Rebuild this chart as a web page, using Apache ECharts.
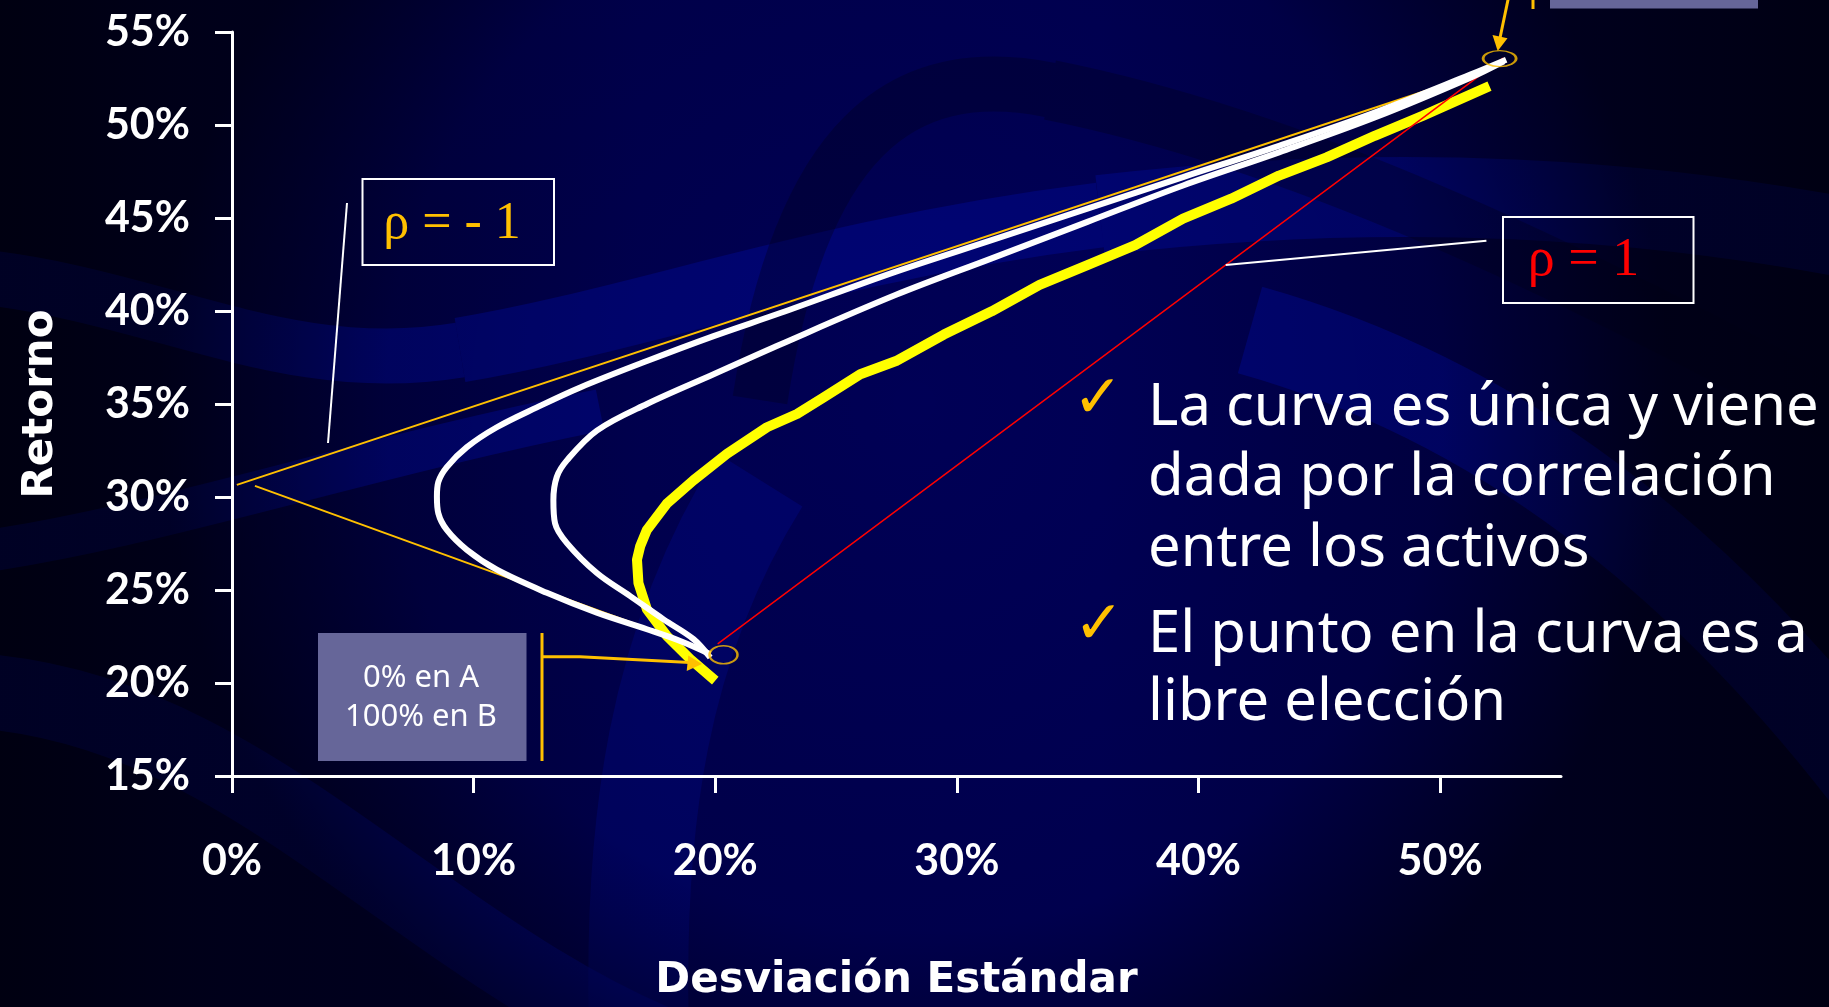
<!DOCTYPE html>
<html>
<head>
<meta charset="utf-8">
<script src="https://cdn.jsdelivr.net/npm/echarts@6.0.0/dist/echarts.min.js"></script>
<style>
html,body{margin:0;padding:0;overflow:hidden;background:#000030;}
#chart{width:1829px;height:1007px;}
</style>
</head>
<body>
<div id="chart"></div>
<script>
// ---- data (σ %, return %) ----
const xTickValues = [0, 10, 20, 30, 40, 50];
const yTickValues = [15, 20, 25, 30, 35, 40, 45, 50, 55];

const curveOuterWhite = [
  [19.79,21.55],[18.55,22.26],[17.17,22.89],[15.10,23.78],[13.03,24.85],[10.96,26.09],
  [9.72,27.16],[8.89,28.23],[8.54,29.12],[8.48,30.01],[8.54,30.81],[8.89,31.61],
  [9.72,32.68],[10.96,33.75],[12.62,34.82],[14.41,35.89],[17.17,37.31],[19.93,38.65],
  [22.69,39.89],[27.48,42.12],[31.44,43.81],[35.40,45.50],[39.36,47.20],[43.33,48.88],
  [47.29,50.67],[51.25,52.71],[52.73,53.51]
];
const curveInnerWhite = [
  [19.79,21.37],[19.10,22.36],[17.86,23.42],[16.48,24.67],[15.10,25.91],[13.86,27.52],
  [13.37,28.58],[13.30,29.83],[13.44,31.08],[13.86,31.97],[15.10,33.57],[17.17,35.00],
  [19.93,36.60],[22.69,38.20],[27.48,40.87],[31.44,42.83],[35.40,44.79],[39.36,46.75],
  [43.33,48.53],[47.29,50.40],[51.25,52.54],[52.63,53.42]
];
const curveYellow = [
  [20.00,20.13],[18.96,21.29],[18.00,22.53],[17.17,23.96],[16.82,25.38],[16.76,26.63],
  [16.89,27.34],[17.17,28.23],[18.00,29.65],[19.10,30.90],[20.48,32.32],[22.14,33.75],
  [23.38,34.46],[24.48,35.35],[26.00,36.60],[27.48,37.31],[29.46,38.73],[31.44,39.98],
  [33.42,41.41],[35.40,42.47],[37.38,43.54],[39.36,44.97],[41.35,46.04],[43.33,47.28],
  [45.30,48.26],[47.29,49.42],[49.27,50.49],[52.04,52.09]
];
const lineRhoMinus1Upper = [[0.2,30.65],[52.1,53.0]];
const lineRhoMinus1Lower = [[0.95,30.6],[19.4,21.9]];
const lineRhoPlus1 = [[20.1,22.1],[52.6,53.6]];
const pointA = [[52.46,53.57]];
const pointB = [[20.34,21.52]];

const xAxisName = 'Desviación Estándar';
const yAxisName = 'Retorno';
const bullet1 = ['La curva es única y viene', 'dada por la correlación', 'entre los activos'];
const bullet2 = ['El punto en la curva es a', 'libre elección'];
const boxBText = ['0% en A', '100% en B'];
const rhoMinusLabel = 'ρ = - 1';
const rhoPlusLabel = 'ρ = 1';

// ---- styling helpers ----
const GOLD = '#FFC000';
const LIGHT = 'rgba(0,8,150,0.5)';
const DARK = 'rgba(0,0,30,0.35)';

function band(p, w, color) {
  return { type: 'bezierCurve', z: -50, silent: true,
    shape: { x1: p[0], y1: p[1], cpx1: p[2], cpy1: p[3], cpx2: p[4], cpy2: p[5], x2: p[6], y2: p[7] },
    style: { stroke: color, lineWidth: w, fill: null } };
}
function seg(x1, y1, x2, y2, color, w, z) {
  return { type: 'line', z: z || 20, silent: true,
    shape: { x1, y1, x2, y2 }, style: { stroke: color, lineWidth: w } };
}
function txt(text, x, y, font, fill, align) {
  return { type: 'text', z: 30, silent: true,
    style: { text, x, y, font, fill, textAlign: align || 'left', textVerticalAlign: 'middle' } };
}

const chart = echarts.init(document.getElementById('chart'), null, { renderer: 'canvas' });

const graphics = [
  { type: 'rect', z: -100, silent: true, shape: { x: 0, y: 0, width: 1829, height: 1007 },
    style: { fill: new echarts.graphic.LinearGradient(0, 0, 1, 0, [
      { offset: 0, color: '#000016' }, { offset: 0.12, color: '#000034' },
      { offset: 0.35, color: '#000052' }, { offset: 0.6, color: '#000058' },
      { offset: 0.85, color: '#000040' }, { offset: 1, color: '#00001c' }]) } },
  // decorative swooshes
  band([-40, 690, 250, 700, 420, 960, 700, 1060], 75, LIGHT),
  band([-40, 555, 150, 530, 350, 460, 600, 410], 42, LIGHT),
  band([-40, 275, 150, 290, 280, 380, 460, 350], 55, LIGHT),
  band([460, 350, 640, 320, 820, 250, 1100, 215], 65, LIGHT),
  band([1100, 215, 1400, 180, 1650, 200, 1860, 240], 80, LIGHT),
  band([1250, 330, 1500, 400, 1700, 560, 1870, 780], 90, LIGHT),
  band([640, 1060, 630, 820, 660, 640, 760, 480], 100, 'rgba(0,8,150,0.35)'),
  band([760, 400, 800, 140, 900, 60, 1050, 90], 55, DARK),
  band([1050, 90, 1300, 140, 1550, 260, 1870, 430], 60, DARK),
  { type: 'rect', z: -40, silent: true, shape: { x: 0, y: 0, width: 1829, height: 1007 },
    style: { fill: new echarts.graphic.RadialGradient(0.5, 0.4, 0.75, [
      { offset: 0, color: 'rgba(0,0,20,0)' }, { offset: 0.7, color: 'rgba(0,0,20,0.15)' },
      { offset: 1, color: 'rgba(0,0,15,0.7)' }]) } },

  // rho = -1 annotation
  { type: 'rect', z: 20, silent: true, shape: { x: 362.5, y: 179, width: 191.5, height: 86 },
    style: { fill: null, stroke: '#ffffff', lineWidth: 2 } },
  txt(rhoMinusLabel, 452, 224.5, '52px "Liberation Serif", serif', GOLD, 'center'),
  seg(347, 203, 328, 443, '#ffffff', 2),

  // rho = 1 annotation
  { type: 'rect', z: 20, silent: true, shape: { x: 1503, y: 217, width: 190.5, height: 86 },
    style: { fill: null, stroke: '#ffffff', lineWidth: 2 } },
  txt(rhoPlusLabel, 1583.5, 260.5, '54px "Liberation Serif", serif', '#FF0000', 'center'),
  seg(1225.7, 265, 1486.4, 240.7, '#ffffff', 2),

  // asset B box + arrow
  { type: 'rect', z: 20, silent: true, shape: { x: 318, y: 633, width: 208.5, height: 128 },
    style: { fill: '#666699' } },
  txt(boxBText[0], 421, 678, '31px "Noto Sans", sans-serif', '#ffffff', 'center'),
  txt(boxBText[1], 421, 717, '31px "Noto Sans", sans-serif', '#ffffff', 'center'),
  seg(542, 633, 542, 761, GOLD, 3),
  { type: 'polyline', z: 25, silent: true,
    shape: { points: [[543, 656.7], [580, 656.7], [690, 662.5]] },
    style: { stroke: GOLD, lineWidth: 3, fill: null } },
  { type: 'polygon', z: 25, silent: true,
    shape: { points: [[688.3, 655.5], [686.7, 671], [702, 664]] }, style: { fill: GOLD } },

  // asset A box (cut at top) + arrow
  { type: 'rect', z: 20, silent: true, shape: { x: 1550, y: -10, width: 208, height: 18.5 },
    style: { fill: '#666699' } },
  seg(1533, -5, 1533, 9, GOLD, 3),
  seg(1509, -5, 1500, 38, GOLD, 3, 25),
  { type: 'polygon', z: 25, silent: true,
    shape: { points: [[1492.5, 35], [1507.5, 38.3], [1497.7, 51]] }, style: { fill: GOLD } },

  // bullet text
  txt('✓', 1098, 401, 'bold 60px "DejaVu Sans", sans-serif', GOLD, 'center'),
  txt(bullet1[0], 1148, 426.7 - 18, '58px "Noto Sans", sans-serif', '#ffffff'),
  txt(bullet1[1], 1148, 496.8 - 18, '58px "Noto Sans", sans-serif', '#ffffff'),
  txt(bullet1[2], 1148, 567 - 18, '58px "Noto Sans", sans-serif', '#ffffff'),
  txt('✓', 1099, 627, 'bold 60px "DejaVu Sans", sans-serif', GOLD, 'center'),
  txt(bullet2[0], 1148, 653.6 - 18, '58px "Noto Sans", sans-serif', '#ffffff'),
  txt(bullet2[1], 1148, 721 - 18, '58px "Noto Sans", sans-serif', '#ffffff')
];

const axisCommon = {
  type: 'value',
  axisLine: { show: true, onZero: false, lineStyle: { color: '#ffffff', width: 3 } },
  axisTick: { show: true, inside: false, length: 17, lineStyle: { color: '#ffffff', width: 3 } },
  splitLine: { show: false },
  nameTextStyle: { color: '#ffffff', fontFamily: 'DejaVu Sans', fontWeight: 'bold', fontSize: 42 }
};

function lineSeries(name, data, color, width, z, smooth) {
  return { name, type: 'line', data, z, showSymbol: false, symbol: 'none', smooth: smooth || false,
    silent: true, clip: false, animation: false,
    lineStyle: { color, width, cap: 'butt', join: 'round' } };
}

chart.setOption({
  backgroundColor: 'transparent',
  animation: false,
  grid: { left: 232, right: 268, top: 32, bottom: 226, containLabel: false },
  xAxis: Object.assign({}, axisCommon, {
    min: 0, max: 55, interval: 10,
    axisTick: Object.assign({}, axisCommon.axisTick, { customValues: xTickValues }),
    axisLabel: { customValues: xTickValues, formatter: '{value}%', color: '#ffffff',
      fontFamily: 'Lato', fontWeight: 'bold', fontSize: 43, margin: 64 },
    name: xAxisName, nameLocation: 'middle', nameGap: 184
  }),
  yAxis: Object.assign({}, axisCommon, {
    min: 15, max: 55, interval: 5,
    axisTick: Object.assign({}, axisCommon.axisTick, { customValues: yTickValues }),
    axisLabel: { customValues: yTickValues, formatter: '{value}%', color: '#ffffff',
      fontFamily: 'Lato', fontWeight: 'bold', fontSize: 43, margin: 42 },
    name: yAxisName, nameLocation: 'middle', nameGap: 170, nameRotate: 90
  }),
  graphic: graphics,
  series: [
    lineSeries('yellow', curveYellow, '#FFFF00', 10, 3, false),
    lineSeries('rho1', lineRhoPlus1, '#FF0000', 1.5, 4),
    lineSeries('rhoM1a', lineRhoMinus1Upper, GOLD, 2, 5),
    lineSeries('rhoM1b', lineRhoMinus1Lower, GOLD, 2, 5),
    lineSeries('inner', curveInnerWhite, '#ffffff', 6, 6, 0.35),
    lineSeries('outer', curveOuterWhite, '#ffffff', 6, 6, 0.35),
    { type: 'scatter', data: pointA, symbol: 'circle', symbolSize: [33, 16], z: 8, silent: true,
      itemStyle: { color: 'rgba(0,0,0,0)', borderColor: GOLD, borderWidth: 2 } },
    { type: 'scatter', data: pointB, symbol: 'circle', symbolSize: [28, 18], z: 8, silent: true,
      itemStyle: { color: 'rgba(0,0,0,0)', borderColor: GOLD, borderWidth: 2 } }
  ]
});
</script>
</body>
</html>
